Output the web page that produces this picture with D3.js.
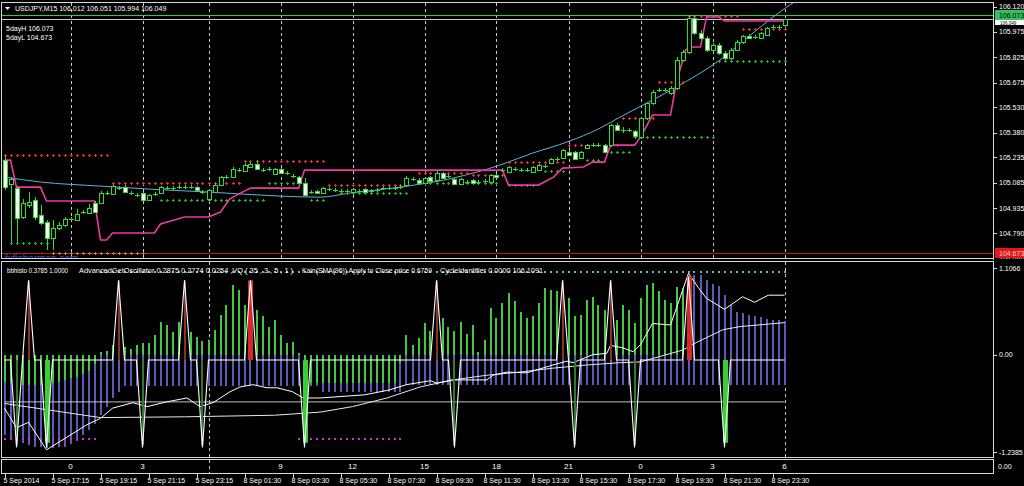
<!DOCTYPE html>
<html><head><meta charset="utf-8">
<script src="https://cdn.jsdelivr.net/npm/d3@7/dist/d3.min.js"></script>
<style>body{margin:0;background:#000;}svg{display:block;}text{font-family:"Liberation Sans",Arial,sans-serif;font-size:7px;}</style>
</head><body><svg id="c" width="1024" height="486"></svg>
<script>
// ---------------- DATA ----------------
const symbolText = "USDJPY,M15  106.012 106.051 105.994 106.049";
const infoLines = ["5dayH 106.073", "5dayL 104.673"];
const lowerHeaderParts = ["bbhisto 0.3785 1.0000", "AdvancedGetOscillator 0.2875 0.2774 0.0254 ,VQ ( 35 , 3 , 5 , 1 )", "Kain(SMA(96)) Apply to Close price 0.6759", "CycleIdentifier 0.0000 106.1091"];
const priceTicks = ["106.120","105.975","105.825","105.675","105.530","105.380","105.235","105.085","104.935","104.790","104.640"];
const lowerTicks = ["1.1066","0.00","-1.2385"];
const dateTickBars = [0,8,16,24,32,40,48,56,64,72,80,88,96,104,112,120,128];
const dateLabels = ["5 Sep 2014","5 Sep 17:15","5 Sep 19:15","5 Sep 21:15","5 Sep 23:15","8 Sep 01:30","8 Sep 03:30","8 Sep 05:30","8 Sep 07:30","8 Sep 09:30","8 Sep 11:30","8 Sep 13:30","8 Sep 15:30","8 Sep 17:30","8 Sep 19:30","8 Sep 21:30","8 Sep 23:30"];
const hourBars = [11,23,46,58,70,82,94,106,118,130];
const hourLabels = ["0","3","9","12","15","18","21","0","3","6"];
const sepBars = [11,23,34,46,58,70,82,94,106,118,130];
const lowerSepBars = [34,130];
const fiveDayHigh = 106.073, fiveDayLow = 104.673, bidPrice = 106.049;

// O,H,L,C per M15 bar
const ohlc = [
[105.219,105.249,105.043,105.060],[105.078,105.119,104.731,105.107],[105.054,105.066,104.731,104.878],[104.884,104.990,104.872,104.966],[104.954,105.031,104.937,104.972],
[104.984,105.001,104.866,104.884],[104.896,104.954,104.837,104.848],[104.854,104.866,104.690,104.760],[104.760,104.866,104.690,104.819],[104.819,104.854,104.807,104.837],
[104.837,104.884,104.825,104.872],[104.872,104.884,104.860,104.870],[104.866,104.930,104.860,104.902],[104.911,104.925,104.902,104.913],[104.907,104.960,104.900,104.937],
[104.966,104.978,104.907,104.913],[104.966,105.037,104.960,105.025],[105.025,105.040,105.013,105.027],[105.019,105.078,105.013,105.066],[105.054,105.066,105.043,105.056],
[105.060,105.072,105.025,105.031],[105.025,105.037,105.013,105.027],[105.013,105.025,105.001,105.015],[105.025,105.031,104.978,104.984],[104.984,105.019,104.978,105.013],
[105.019,105.031,105.007,105.019],[105.025,105.066,105.019,105.060],[105.054,105.066,105.043,105.054],[105.054,105.066,105.043,105.056],[105.060,105.072,105.048,105.060],
[105.060,105.072,105.048,105.062],[105.060,105.072,105.048,105.058],[105.060,105.066,105.037,105.043],[105.031,105.043,105.019,105.031],[104.990,105.048,104.978,105.043],
[105.031,105.084,105.025,105.072],[105.072,105.125,105.066,105.119],[105.119,105.131,105.107,105.119],[105.119,105.178,105.113,105.166],[105.160,105.172,105.149,105.160],
[105.154,105.202,105.149,105.190],[105.178,105.207,105.172,105.196],[105.196,105.219,105.160,105.166],[105.160,105.172,105.149,105.160],[105.166,105.178,105.154,105.166],
[105.137,105.172,105.131,105.166],[105.166,105.172,105.137,105.143],[105.143,105.154,105.131,105.143],[105.125,105.137,105.113,105.125],[105.119,105.125,105.078,105.084],
[105.084,105.113,105.007,105.013],[105.031,105.043,105.019,105.031],[105.037,105.043,105.019,105.025],[105.025,105.060,105.019,105.054],[105.048,105.060,105.037,105.048],
[105.043,105.054,105.031,105.043],[105.037,105.048,105.025,105.037],[105.037,105.048,105.025,105.037],[105.031,105.054,105.025,105.048],[105.037,105.048,105.025,105.037],
[105.048,105.054,105.025,105.031],[105.037,105.048,105.025,105.037],[105.043,105.054,105.031,105.043],[105.054,105.066,105.043,105.054],[105.054,105.066,105.043,105.054],
[105.054,105.066,105.043,105.054],[105.060,105.072,105.048,105.060],[105.072,105.125,105.066,105.113],[105.107,105.119,105.095,105.107],[105.101,105.113,105.078,105.084],
[105.084,105.119,105.078,105.113],[105.119,105.125,105.090,105.095],[105.101,105.154,105.095,105.143],[105.143,105.149,105.107,105.113],[105.125,105.137,105.113,105.125],
[105.107,105.113,105.072,105.078],[105.078,105.113,105.072,105.107],[105.090,105.101,105.078,105.090],[105.101,105.107,105.078,105.084],[105.090,105.101,105.078,105.090],
[105.095,105.107,105.084,105.095],[105.090,105.137,105.084,105.131],[105.131,105.137,105.113,105.119],[105.160,105.172,105.149,105.160],[105.149,105.184,105.143,105.178],
[105.166,105.178,105.154,105.166],[105.160,105.172,105.149,105.160],[105.160,105.172,105.149,105.160],[105.149,105.184,105.143,105.178],[105.160,105.196,105.154,105.190],
[105.184,105.196,105.172,105.184],[105.202,105.231,105.196,105.225],[105.225,105.237,105.213,105.225],[105.231,105.284,105.225,105.278],[105.266,105.278,105.243,105.249],
[105.266,105.272,105.219,105.225],[105.231,105.272,105.225,105.266],[105.290,105.313,105.284,105.307],[105.307,105.319,105.296,105.307],[105.307,105.319,105.296,105.307],
[105.307,105.313,105.260,105.266],[105.307,105.431,105.296,105.425],[105.425,105.437,105.390,105.396],[105.396,105.413,105.378,105.396],[105.396,105.407,105.384,105.396],
[105.390,105.396,105.348,105.360],[105.354,105.472,105.343,105.466],[105.466,105.561,105.455,105.555],[105.555,105.631,105.543,105.619],[105.631,105.643,105.619,105.631],
[105.631,105.643,105.619,105.631],[105.613,105.655,105.602,105.643],[105.643,105.825,105.631,105.808],[105.808,105.867,105.796,105.855],[105.855,106.072,105.843,106.055],
[106.055,106.072,105.955,105.967],[105.967,105.984,105.925,105.937],[105.937,105.949,105.855,105.867],[105.867,105.908,105.855,105.896],[105.896,105.908,105.837,105.849],
[105.849,105.861,105.808,105.819],[105.819,105.878,105.808,105.867],[105.867,105.925,105.861,105.914],[105.914,105.955,105.902,105.949],[105.949,105.961,105.931,105.937],
[105.943,105.955,105.931,105.943],[105.937,105.973,105.931,105.967],[105.955,106.002,105.949,105.996],[106.002,106.014,105.990,106.002],[106.002,106.014,105.990,106.002],
[106.012,106.051,105.994,106.049]
];

// trailing stop line (magenta)
const pinkBars = [0,1,2,6,7,15,16,17,18,25,26,30,34,36,37.5,39,41,49,50,83,84,89,91.5,93,96.5,98,100,101,105,106,108,111,112,113.5,114.25,116,117,119,120,130];
const pinkPrices = [105.219,105.219,105.060,105.060,104.978,104.978,104.749,104.749,104.790,104.790,104.843,104.884,104.884,104.913,104.990,105.019,105.054,105.054,105.160,105.160,105.072,105.072,105.119,105.172,105.178,105.207,105.207,105.307,105.307,105.354,105.484,105.484,105.678,105.867,105.884,105.884,106.061,106.061,106.037,106.037];
// regression curve (light blue)
const blueBars = [0,6,16,24.25,34,46,52.6,57.6,66,74.75,82.6,88,93.75,99.25,102.6,108,112,119.25,124.75,130.4,131.4];
const bluePrices = [105.119,105.090,105.066,105.048,105.031,105.007,105.001,105.025,105.060,105.113,105.190,105.260,105.325,105.407,105.472,105.572,105.649,105.808,105.967,106.120,106.143];
// resistance (red +) and support (green +) dots
const resFrom = [0,18,40,54,69,78,84,94,103,109,114,123];
const resTo   = [17,39,53,66,77,83,93,102,108,113,122,130];
const resPrice= [105.249,105.086,105.213,105.070,105.143,105.131,105.205,105.307,105.466,105.678,106.067,105.988];
const supFrom = [1,26,44,51,56,69,84,90,97,101,105,119];
const supTo   = [7,43,49,53,67,82,88,93,99,104,118,130];
const supPrice= [104.731,104.984,105.084,104.984,105.025,105.084,105.070,105.155,105.219,105.266,105.354,105.802];
const lowDotFrom = [8], lowDotTo = [23], lowDotPrice = [104.672];

// lower window
const aoGreen = [
-0.35,-0.36,-0.37,-0.38,-0.38,-0.38,-0.38,-0.38,-0.36,-0.34,
-0.32,-0.30,-0.28,-0.25,-0.20,-0.12,0.04,0.05,0.12,0.20,
0.10,0.08,0.13,0.15,0.15,0.25,0.42,0.38,0.29,0.42,
0.35,0.29,0.23,0.17,0.19,0.32,0.51,0.63,0.89,0.83,
0.63,0.85,0.57,0.49,0.36,0.44,0.25,0.15,0.16,0.02,
-0.30,-0.36,-0.36,-0.36,-0.36,-0.36,-0.36,-0.36,-0.36,-0.36,
-0.36,-0.36,-0.36,-0.36,-0.36,-0.36,-0.10,0.25,0.13,0.21,
0.40,0.30,0.50,0.47,0.36,0.30,0.42,0.27,0.38,0.04,
0.19,0.60,0.47,0.66,0.79,0.68,0.55,0.47,0.49,0.66,
0.85,0.83,0.81,0.80,0.72,0.50,0.51,0.70,0.74,0.63,
0.57,0.60,0.44,0.63,0.57,0.40,0.72,0.89,0.91,0.81,
0.70,0.66,0.87,0.81,0,0,0,0,0,0,
0,0,0,0,0,0,0,0,0,0,0];
const vqLow = [
-1.02,-1.06,-1.09,-1.12,-1.15,-1.17,-1.18,-1.19,-1.19,-1.18,
-1.17,-1.14,-1.10,-1.02,-0.96,-0.88,-0.77,-0.66,-0.55,-0.47,
-0.40,-0.40,-0.40,-0.40,-0.40,-0.40,-0.40,-0.40,-0.40,-0.40,
-0.40,-0.40,-0.40,-0.40,-0.40,-0.40,-0.40,-0.40,-0.40,-0.40,
-0.40,-0.40,-0.40,-0.40,-0.40,-0.40,-0.40,-0.40,-0.40,-0.40,
-0.40,-0.40,-0.40,-0.47,-0.47,-0.47,-0.47,-0.47,-0.47,-0.47,
-0.47,-0.47,-0.47,-0.47,-0.47,-0.47,-0.47,-0.38,-0.38,-0.38,
-0.38,-0.38,-0.38,-0.38,-0.38,-0.38,-0.38,-0.38,-0.38,-0.38,
-0.38,-0.38,-0.38,-0.38,-0.38,-0.38,-0.38,-0.38,-0.38,-0.38,
-0.38,-0.38,-0.38,-0.38,-0.38,-0.38,-0.38,-0.38,-0.38,-0.38,
-0.38,-0.38,-0.38,-0.38,-0.38,-0.38,-0.38,-0.38,-0.38,-0.38,
-0.38,-0.38,-0.38,-0.38,-0.38,-0.38,-0.38,-0.38,-0.38,-0.38,
-0.38,-0.38,-0.38,-0.38,-0.38,-0.38,-0.38,-0.38,-0.38,-0.38,-0.38];
const vqHigh = [
0,0,0,0,0,0,0,0,0,0, 0,0,0,0,0,0,0,0,0,0,
0,0,0,0,0,0,0,0,0,0, 0,0,0,0,0,0,0,0,0,0,
0,0,0,0,0,0,0,0,0,0, 0,0,0,0,0,0,0,0,0,0,
0,0,0,0,0,0,0,0,0,0, 0,0,0,0,0,0,0,0,0,0,
0,0,0,0,0,0,0,0,0,0, 0,0,0,0,0,0,0,0,0,0,
0.05,0.10,0.15,0.20,0.25,0.30,0.35,0.40,0.45,0.50,
0.55,0.60,0.70,0.85,0.97,1.02,1.02,0.95,0.90,0.88,
0.76,0.63,0.55,0.53,0.51,0.50,0.48,0.46,0.45,0.44,0.43];
const cycleBase = -0.066;
const minorTopBars = [4,19,30,72,93,101], minorTopVals = [0.95,0.95,0.95,0.95,0.95,0.95];
const majorTopBars = [41,114], majorTopVals = [0.95,1.0];
const minorBotBars = [2,23,33,75,95,105], minorBotVals = [-1.15,-1.15,-1.15,-1.15,-1.15,-1.15];
const majorBotBars = [7,50,120], majorBotVals = [-1.12,-1.12,-1.12];
const kainBars = [0,2,4,7,10.4,13.75,16,18,21.4,23.75,27,30.4,32.6,34.75,37.6,39.25,41.4,43.75,45.4,48,49.75,52.6,60,64,67,71,72,74.75,80.4,81.4,83.75,87,91.4,93.75,94.75,97,98,100.4,101,103,104.75,106,108,111,114,115.6,117,120,123,125,127.3,130];
const kainVals = [-0.68,-0.93,-0.86,-1.21,-1.05,-0.89,-0.81,-0.68,-0.61,-0.66,-0.6,-0.55,-0.66,-0.61,-0.47,-0.41,-0.38,-0.42,-0.42,-0.47,-0.55,-0.55,-0.51,-0.45,-0.38,-0.33,-0.36,-0.32,-0.32,-0.26,-0.22,-0.23,-0.13,-0.08,-0.1,-0.03,0,0.02,0.12,0.09,0.04,0.13,0.4,0.38,1.04,0.86,0.72,0.58,0.74,0.67,0.76,0.76];
const smaBars = [0,16,30,45,52.6,58,63.75,69.25,74.75,80.4,85.9,91.4,97,102.6,106,113,115.4,119.75,122.6,130];
const smaVals = [-0.62,-0.8,-0.79,-0.77,-0.73,-0.66,-0.55,-0.41,-0.32,-0.26,-0.22,-0.17,-0.13,-0.1,-0.09,0.06,0.16,0.32,0.36,0.41];
const flatBars = [0,130], flatVals = [-0.6,-0.6];
const tealFrom = 16, tealTo = 130, tealVal = 1.07;
const magFrom = [0,49], magTo = [15,66], magVal = -1.06;

// ---------------- DRAW ----------------
const svg = d3.select("#c");
svg.append("rect").attr("width",1024).attr("height",486).attr("fill","#000");
const FR = "#d8d8d8", CG = "#38d838";
const x = d3.scaleLinear().domain([0,130]).range([4.5,784.5]);
const X = i => Math.round(x(i)) + 0.5;
const yP = d3.scaleLinear().domain([104.643,106.149]).range([258,2]);
const yL = d3.scaleLinear().domain([-1.2385,1.1066]).range([452,268]);

const defs = svg.append("defs");
defs.append("clipPath").attr("id","ct").append("rect").attr("x",1).attr("y",2).attr("width",992).attr("height",257);
defs.append("clipPath").attr("id","cl").append("rect").attr("x",1).attr("y",262).attr("width",992).attr("height",195);
const T = svg.append("g").attr("clip-path","url(#ct)");
const L = svg.append("g").attr("clip-path","url(#cl)");

// separators top
T.selectAll(".sep").data(sepBars).join("line").attr("x1",d=>X(d)).attr("x2",d=>X(d)).attr("y1",3).attr("y2",258)
 .attr("stroke","#c8c8c8").attr("stroke-dasharray","3,3").attr("shape-rendering","crispEdges");

// horizontal level lines
function hline(p, color){ const y = Math.round(yP(p))+0.5;
  T.append("line").attr("x1",1).attr("x2",993).attr("y1",y).attr("y2",y).attr("stroke",color).attr("shape-rendering","crispEdges"); }
hline(fiveDayHigh, "#3cc83c"); hline(bidPrice, "#c8c8c8"); hline(fiveDayLow, "#c81010");

// blue regression curve
T.append("path").attr("d",d3.line().x((d,i)=>x(blueBars[i])).y(d=>yP(d)).curve(d3.curveMonotoneX)(bluePrices))
 .attr("fill","none").attr("stroke","#64b0e0").attr("stroke-width",1);

// dots
function crosses(g, from, to, vals, color, scale){
  from.forEach((f,k)=>{
    for(let i=f;i<=to[k];i++){
      const cx = Math.round(x(i)), cy = Math.round(scale(vals[k]));
      g.append("rect").attr("x",cx-1).attr("y",cy).attr("width",3).attr("height",1).attr("fill",color);
      g.append("rect").attr("x",cx).attr("y",cy-1).attr("width",1).attr("height",3).attr("fill",color);
    }
  });
}
crosses(T, resFrom, resTo, resPrice, "#ee2a2a", yP);
crosses(T, supFrom, supTo, supPrice, "#22b022", yP);
crosses(T, lowDotFrom, lowDotTo, lowDotPrice, "#c08a2b", yP);

// pink trailing line
T.append("path").attr("d",d3.line().x((d,i)=>x(pinkBars[i])).y(d=>yP(d))(pinkPrices))
 .attr("fill","none").attr("stroke","#ee3aa0").attr("stroke-width",1.6);

// candles
const cg = T.append("g").attr("shape-rendering","crispEdges");
ohlc.forEach((d,i)=>{
  const cx = X(i);
  cg.append("line").attr("x1",cx).attr("x2",cx).attr("y1",yP(d[1])).attr("y2",yP(d[2])).attr("stroke",CG);
  const yo = yP(d[0]), yc = yP(d[3]);
  const t = Math.round(Math.min(yo,yc)), b = Math.round(Math.max(yo,yc));
  if (b - t < 1) {
    cg.append("line").attr("x1",cx-2.5).attr("x2",cx+2.5).attr("y1",t+0.5).attr("y2",t+0.5).attr("stroke",CG);
  } else {
    cg.append("rect").attr("x",cx-2).attr("y",t+0.5).attr("width",4).attr("height",b-t)
      .attr("fill", d[3] >= d[0] ? "#000" : "#fff").attr("stroke",CG);
  }
});

// header texts
svg.append("path").attr("d","M5,7 L10,7 L7.5,10 Z").attr("fill","#fff");
svg.append("text").attr("x",15).attr("y",11).attr("fill","#fff").text(symbolText);
infoLines.forEach((s,k)=>svg.append("text").attr("x",6).attr("y",31+k*9).attr("fill","#fff").text(s));
T.append("text").attr("x",5).attr("y",262).attr("fill","#3454c0").style("font-size","10px").text("fxfisherman.com");

// ---- lower window ----
L.selectAll(".lsep").data(lowerSepBars).join("line").attr("x1",d=>X(d)).attr("x2",d=>X(d)).attr("y1",262).attr("y2",458)
 .attr("stroke","#c8c8c8").attr("stroke-dasharray","3,3").attr("shape-rendering","crispEdges");
const lg = L.append("g").attr("shape-rendering","crispEdges");
vqLow.forEach((lo,i)=>{
  const a = yL(lo), b = yL(vqHigh[i]);
  lg.append("rect").attr("x",Math.round(x(i))-1).attr("width",2).attr("y",Math.min(a,b)).attr("height",Math.abs(a-b)).attr("fill","#5c5cb8");
});
aoGreen.forEach((v,i)=>{
  if (v===0) return;
  const a = yL(0), b = yL(v);
  lg.append("rect").attr("x",Math.round(x(i))-1).attr("width",2).attr("y",Math.min(a,b)).attr("height",Math.abs(a-b)).attr("fill","#44c844");
});
for(let i=tealFrom;i<=tealTo;i++) lg.append("rect").attr("x",Math.round(x(i))-1).attr("y",Math.round(yL(tealVal))).attr("width",2).attr("height",2).attr("fill","#58c0c0");
magFrom.forEach((f,k)=>{ for(let i=f;i<=magTo[k];i++) lg.append("rect").attr("x",Math.round(x(i))-1).attr("y",Math.round(yL(magVal))).attr("width",2).attr("height",2).attr("fill","#d030d0"); });

L.append("path").attr("d",d3.line().x((d,i)=>x(flatBars[i])).y(d=>yL(d))(flatVals)).attr("fill","none").attr("stroke","#c0c0c0");
L.append("path").attr("d",d3.line().x((d,i)=>x(smaBars[i])).y(d=>yL(d))(smaVals)).attr("fill","none").attr("stroke","#e8e8e8");
L.append("path").attr("d",d3.line().x((d,i)=>x(kainBars[i])).y(d=>yL(d))(kainVals)).attr("fill","none").attr("stroke","#ffffff");

function cycHist(bars, vals, color, w){
  bars.forEach((b,k)=>{
    L.append("rect").attr("x",Math.round(x(b))-Math.floor(w/2)).attr("width",w)
     .attr("y",Math.min(yL(cycleBase),yL(vals[k]))).attr("height",Math.abs(yL(vals[k])-yL(cycleBase))).attr("fill",color);
  });
}
cycHist(minorTopBars, minorTopVals, "#8a3030", 2);
cycHist(majorTopBars, majorTopVals, "#d82828", 5);
cycHist(minorBotBars, minorBotVals, "#2f7a2f", 2);
cycHist(majorBotBars, majorBotVals, "#34d034", 5);
const ev = new Map();
minorTopBars.forEach((b,k)=>ev.set(b,minorTopVals[k]));
majorTopBars.forEach((b,k)=>ev.set(b,majorTopVals[k]));
minorBotBars.forEach((b,k)=>ev.set(b,minorBotVals[k]-0.03));
majorBotBars.forEach((b,k)=>ev.set(b,majorBotVals[k]-0.06));
const cyc = d3.range(131).map(i=>[i, ev.has(i)?ev.get(i):cycleBase]);
L.append("path").attr("d",d3.line().x(d=>x(d[0])).y(d=>yL(d[1]))(cyc)).attr("fill","none").attr("stroke","#fff").attr("stroke-width",1.1);

const hx = [7,79,302,440], hw = [61,214,130,103];
lowerHeaderParts.forEach((s,k)=>svg.append("text").attr("x",hx[k]).attr("y",273).attr("fill","#fff")
  .attr("textLength",hw[k]).attr("lengthAdjust","spacingAndGlyphs").text(s));

// ---- frames ----
const fr = svg.append("g").attr("fill","none").attr("stroke",FR).attr("shape-rendering","crispEdges");
fr.append("rect").attr("x",1.5).attr("y",2.5).attr("width",992).attr("height",256);
fr.append("rect").attr("x",1.5).attr("y",261.5).attr("width",992).attr("height",196);
fr.append("rect").attr("x",1.5).attr("y",459.5).attr("width",992).attr("height",14);
svg.append("line").attr("x1",X(34)).attr("x2",X(34)).attr("y1",460).attr("y2",473).attr("stroke","#c8c8c8").attr("stroke-dasharray","3,3");

// right price axis
const ax = svg.append("g");
priceTicks.forEach(s=>{
  const y = yP(+s);
  ax.append("line").attr("x1",993).attr("x2",997).attr("y1",Math.round(y)+0.5).attr("y2",Math.round(y)+0.5).attr("stroke",FR);
  ax.append("text").attr("x",999).attr("y",y+2.5).attr("fill","#fff").text(s);
});
ax.append("rect").attr("x",994).attr("y",259).attr("width",30).attr("height",3).attr("fill","#000");
// bid label mostly hidden under the 5dayH label
const yBid = Math.round(yP(fiveDayHigh));
ax.append("rect").attr("x",995).attr("y",yBid+5).attr("width",29).attr("height",5).attr("fill","#fff");
ax.append("text").attr("x",1000).attr("y",yBid+9.6).attr("fill","#000").style("font-size","4.5px").text(bidPrice.toFixed(3));
function priceBox(p, bg, fg){
  const y = Math.round(yP(p));
  ax.append("rect").attr("x",995).attr("y",y-5).attr("width",29).attr("height",10).attr("fill",bg);
  ax.append("text").attr("x",999).attr("y",y+2.5).attr("fill",fg).text(p.toFixed(3));
}
priceBox(fiveDayHigh, "#34c060", "#000");
priceBox(fiveDayLow, "#e01818", "#ffd0d0");
lowerTicks.forEach(s=>{
  const y = yL(+s);
  ax.append("line").attr("x1",993).attr("x2",997).attr("y1",Math.round(y)+0.5).attr("y2",Math.round(y)+0.5).attr("stroke",FR);
  ax.append("text").attr("x",999).attr("y",y+2.5).attr("fill","#fff").text(s);
});
ax.append("text").attr("x",998).attr("y",469).attr("fill","#fff").text("0.00");

hourBars.forEach((b,k)=>svg.append("text").attr("x",x(b)).attr("y",469).attr("text-anchor","middle").attr("fill","#fff").style("font-size","8px").text(hourLabels[k]));
dateTickBars.forEach((b,k)=>{
  const xx = X(b);
  svg.append("line").attr("x1",xx).attr("x2",xx).attr("y1",474).attr("y2",478).attr("stroke",FR).attr("shape-rendering","crispEdges");
  svg.append("text").attr("x",xx-2).attr("y",483).attr("fill","#fff").text(dateLabels[k]);
});
</script></body></html>
